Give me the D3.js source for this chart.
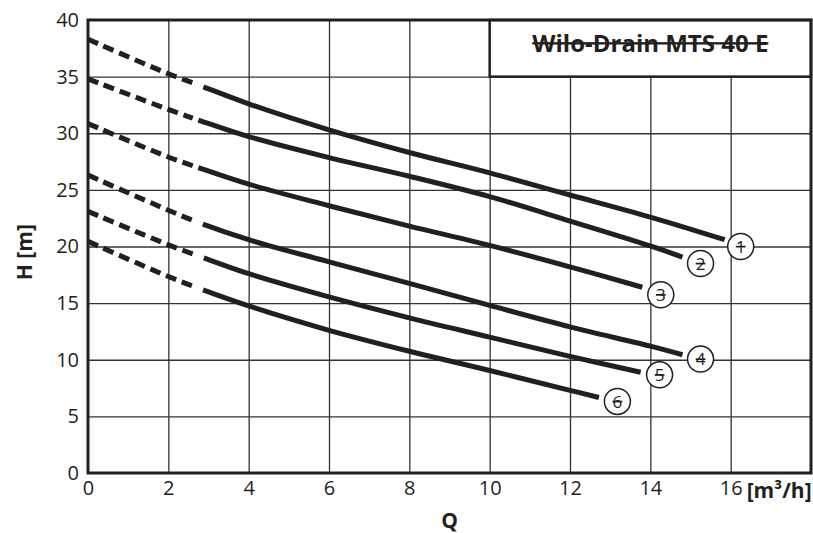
<!DOCTYPE html>
<html>
<head>
<meta charset="utf-8">
<script src="https://cdn.jsdelivr.net/npm/d3@7"></script>
<style>
  body { margin: 0; background: #fff; }
  svg { display: block; font-family: "Open Sans", sans-serif; }
</style>
</head>
<body>
<div id="chart"></div>
<script>
// pump curves, [Q m3/h, H m]
const curve1 = [[0, 38.3], [2, 35.25], [2.8, 34.2], [4, 32.6], [6, 30.3], [8, 28.3], [10, 26.5], [12, 24.55], [14, 22.6], [15.85, 20.6]];
const curve2 = [[0, 34.8], [2, 32.1], [2.8, 31.1], [4, 29.7], [6, 27.85], [8, 26.2], [10, 24.4], [12, 22.25], [14, 20.05], [14.8, 19.06]];
const curve3 = [[0, 30.85], [2, 27.9], [2.8, 26.9], [4, 25.5], [6, 23.6], [8, 21.8], [10, 20.1], [12, 18.2], [13.8, 16.4]];
const curve4 = [[0, 26.3], [2, 23.2], [2.8, 22.05], [4, 20.6], [6, 18.65], [8, 16.75], [10, 14.8], [12, 12.9], [14, 11.2], [14.8, 10.44]];
const curve5 = [[0, 23.1], [2, 20.15], [2.8, 19.1], [4, 17.6], [6, 15.55], [8, 13.7], [10, 12.0], [12, 10.3], [13.76, 8.9]];
const curve6 = [[0, 20.45], [2, 17.35], [2.8, 16.25], [4, 14.75], [6, 12.6], [8, 10.75], [10, 9.05], [12, 7.3], [12.72, 6.67]];
const curves = [curve1, curve2, curve3, curve4, curve5, curve6];
const dashUntil = 2.75; // dashed part of each curve ends here

const labelNames = ["1", "2", "3", "4", "5", "6"];
const labelQ = [16.25, 15.25, 14.26, 15.25, 14.23, 13.18];
const labelH = [20.0, 18.5, 15.74, 10.06, 8.67, 6.32];

const xTicks = [0, 2, 4, 6, 8, 10, 12, 14, 16];
const yTicks = [0, 5, 10, 15, 20, 25, 30, 35, 40];
const title = "Wilo-Drain MTS 40 E";

const width = 813, height = 533;
const margin = { top: 20, right: 2, bottom: 60, left: 88 };
const ink = "#231f20";

const svg = d3.select("#chart").append("svg")
  .attr("width", width)
  .attr("height", height);

const x = d3.scaleLinear().domain([0, 18]).range([margin.left, width - margin.right]);
const y = d3.scaleLinear().domain([0, 40]).range([height - margin.bottom, margin.top]);

// grid
svg.append("g")
  .attr("transform", "translate(0," + y(0) + ")")
  .call(d3.axisBottom(x).tickValues(d3.range(2, 18, 2)).tickSize(-(y(0) - y(40))).tickFormat(""))
  .call(g => g.select(".domain").remove())
  .call(g => g.selectAll("line").attr("stroke", "#333").attr("stroke-width", 1.3));

svg.append("g")
  .attr("transform", "translate(" + x(0) + ",0)")
  .call(d3.axisLeft(y).tickValues(d3.range(5, 40, 5)).tickSize(-(x(18) - x(0))).tickFormat(""))
  .call(g => g.select(".domain").remove())
  .call(g => g.selectAll("line").attr("stroke", "#333").attr("stroke-width", 1.3));

// tick labels
const xAxis = svg.append("g")
  .attr("transform", "translate(0," + y(0) + ")")
  .call(d3.axisBottom(x).tickValues(xTicks).tickSize(0).tickPadding(8));
xAxis.select(".domain").remove();
xAxis.selectAll("text").attr("font-size", 20).attr("fill", ink).attr("font-family", "Open Sans");

const yAxis = svg.append("g")
  .attr("transform", "translate(" + x(0) + ",0)")
  .call(d3.axisLeft(y).tickValues(yTicks).tickSize(0).tickPadding(9));
yAxis.select(".domain").remove();
yAxis.selectAll("text").attr("font-size", 20).attr("fill", ink).attr("font-family", "Open Sans");

// title box
svg.append("rect")
  .attr("x", x(10)).attr("y", y(40))
  .attr("width", x(18) - x(10)).attr("height", y(35) - y(40))
  .attr("fill", "#fff").attr("stroke", ink).attr("stroke-width", 2.5);

svg.append("text")
  .attr("x", (x(10) + x(18)) / 2)
  .attr("y", 52)
  .attr("text-anchor", "middle")
  .attr("font-size", 24)
  .attr("font-weight", "bold")
  .attr("fill", ink)
  .style("text-decoration", "line-through")
  .text(title);

// curves: one path each, dashed at the start then solid
const line = d3.line()
  .x(d => x(d[0]))
  .y(d => y(d[1]))
  .curve(d3.curveCatmullRom.alpha(0.5));

curves.forEach(c => {
  const path = svg.append("path")
    .datum(c)
    .attr("d", line)
    .attr("fill", "none")
    .attr("stroke", ink)
    .attr("stroke-width", 5);
  const node = path.node();
  const total = node.getTotalLength();
  // length along the path where the dashed part stops
  let lo = 0, hi = total;
  for (let k = 0; k < 30; k++) {
    const mid = (lo + hi) / 2;
    if (node.getPointAtLength(mid).x < x(dashUntil)) lo = mid; else hi = mid;
  }
  const dashes = [];
  let run = 0;
  while (run + 17 < lo) { dashes.push(11, 6); run += 17; }
  dashes.push(Math.max(0, lo - run - 6), 6, total);
  path.attr("stroke-dasharray", dashes.join(","));
});

// frame
svg.append("rect")
  .attr("x", x(0)).attr("y", y(40))
  .attr("width", x(18) - x(0)).attr("height", y(0) - y(40))
  .attr("fill", "none").attr("stroke", ink).attr("stroke-width", 3);

// curve labels
const labels = svg.append("g").selectAll("g")
  .data(labelNames)
  .join("g")
  .attr("transform", (d, i) => "translate(" + x(labelQ[i]) + "," + y(labelH[i]) + ")");

labels.append("circle")
  .attr("r", 13)
  .attr("fill", "#fff")
  .attr("stroke", ink)
  .attr("stroke-width", 1.5);

labels.append("text")
  .attr("text-anchor", "middle")
  .attr("dy", "0.36em")
  .attr("font-size", 17)
  .attr("fill", ink)
  .style("text-decoration", "line-through")
  .text(d => d);

// axis titles
svg.append("text")
  .attr("x", x(16) + 16)
  .attr("y", y(0) + 25)
  .attr("font-size", 21)
  .attr("font-weight", "bold")
  .attr("fill", ink)
  .text("[m³/h]");

svg.append("text")
  .attr("x", x(9))
  .attr("y", height - 5)
  .attr("text-anchor", "middle")
  .attr("font-size", 21)
  .attr("font-weight", "bold")
  .attr("fill", ink)
  .text("Q");

svg.append("text")
  .attr("transform", "translate(32," + y(19.5) + ") rotate(-90)")
  .attr("text-anchor", "middle")
  .attr("font-size", 21)
  .attr("font-weight", "bold")
  .attr("fill", ink)
  .text("H [m]");
</script>
</body>
</html>
